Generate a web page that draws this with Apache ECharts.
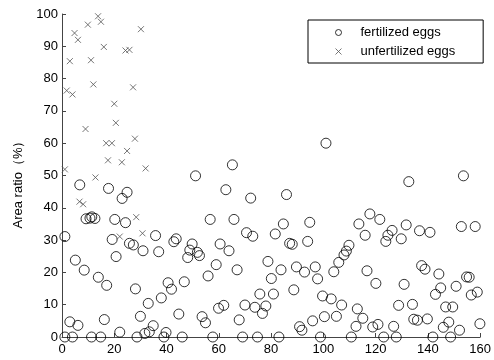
<!DOCTYPE html>
<html>
<head>
<meta charset="utf-8">
<script src="https://cdn.jsdelivr.net/npm/echarts@6/dist/echarts.min.js"></script>
<style>
  html, body { margin: 0; padding: 0; background: #fff; }
  #chart { width: 494px; height: 360px; }
</style>
</head>
<body>
<div id="chart"></div>
<script>
// fertilized eggs (x = egg index, y = area ratio %)
const fertX = [
  6.8, 17.8, 23.0, 24.9, 9.2, 10.7, 12.6, 11.4, 1.1, 20.2, 24.3, 19.2, 25.8, 27.3, 31.0, 35.8, 37.0,
  5.1, 20.7, 8.5, 13.9, 17.1, 28.1, 33.0, 38.0, 40.6, 3.0, 6.1, 16.2, 30.0, 22.1, 31.7, 33.4, 34.9,
  39.8, 1.1, 4.0, 11.3, 14.8, 28.7, 39.0,
  51.1, 62.7, 72.2, 85.9, 56.7, 65.8, 84.7, 94.8, 70.6, 73.0, 81.6, 42.8, 43.7, 49.8, 60.5, 48.9,
  51.8, 52.6, 48.1, 63.9, 87.1, 88.1, 94.0, 59.0, 55.9, 67.0, 78.8, 83.8, 89.7, 92.8, 96.9, 97.8,
  80.1, 41.9, 46.8, 75.7, 80.9, 88.7, 99.7, 44.7, 59.9, 61.9, 70.0, 73.8, 78.0, 76.7, 53.6, 54.9,
  67.8, 95.9, 100.4, 90.9, 91.8, 46.0, 57.7, 69.1, 74.8, 83.0, 98.9, 65.2, 101.0,
  153.6, 132.7, 117.8, 121.6, 113.6, 116.0, 131.7, 136.8, 140.8, 152.8, 158.1, 126.3, 124.7, 123.9,
  129.8, 109.8, 108.8, 107.9, 105.9, 104.0, 116.7, 120.1, 130.9, 137.6, 138.9, 144.2, 144.9, 142.9,
  150.8, 154.8, 155.8, 158.9, 156.6, 103.0, 107.0, 113.0, 128.8, 134.1, 146.8, 149.5, 105.0, 115.1,
  134.6, 136.0, 139.8, 112.5, 118.9, 120.9, 126.9, 145.9, 148.0, 152.1, 159.9, 110.7, 123.1, 127.9,
  141.9, 148.7
];
const fertY = [
  47.1, 46.0, 42.9, 44.8, 36.6, 36.8, 36.7, 37.2, 31.1, 36.4, 35.4, 30.2, 29.0, 28.5, 26.7, 31.4, 26.4,
  23.8, 24.9, 20.7, 18.5, 16.0, 14.9, 10.4, 12.1, 16.8, 4.7, 3.6, 5.4, 6.4, 1.5, 1.1, 1.6, 3.5,
  1.4, 0, 0, 0, 0, 0, 0,
  49.9, 45.6, 43.0, 44.1, 36.4, 36.4, 35.0, 35.5, 32.3, 31.2, 31.9, 29.5, 30.4, 28.8, 28.8, 26.9,
  26.2, 25.2, 24.6, 26.7, 29.0, 28.7, 29.6, 22.4, 18.9, 20.8, 23.4, 20.8, 21.7, 20.1, 21.7, 18.0,
  18.1, 14.8, 17.1, 13.3, 13.3, 14.6, 12.7, 7.1, 8.9, 9.8, 9.9, 9.2, 9.6, 7.3, 6.3, 4.4,
  5.3, 5.0, 6.3, 3.2, 2.1, 0, 0, 0, 0, 0, 0, 53.3, 60.0,
  49.9, 48.1, 38.1, 36.4, 35.0, 31.5, 34.7, 32.9, 32.4, 34.2, 34.2, 33.0, 31.5, 29.6,
  30.4, 28.4, 26.6, 25.4, 23.1, 20.2, 20.5, 16.6, 16.3, 22.1, 21.0, 19.5, 15.2, 13.2,
  15.7, 18.6, 18.5, 13.9, 13.0, 11.8, 9.9, 8.7, 9.8, 10.1, 9.3, 9.3, 6.4, 5.8,
  5.5, 5.2, 5.6, 3.3, 3.1, 3.9, 3.3, 3.0, 4.6, 2.1, 4.1, 0, 0, 0,
  0, 0
];

// unfertilized eggs
const unfertX = [
  3.0, 1.8, 4.0, 4.8, 6.1, 9.9, 11.1, 12.0, 9.0, 13.8, 14.9, 16.0, 1.1, 12.8, 20.0, 20.6,
  16.9, 19.1, 17.6, 22.9, 24.9, 27.9, 24.3, 25.8, 27.2, 30.2, 32.0, 6.7, 8.1, 28.4, 22.1, 30.8
];
const unfertY = [
  85.4, 76.3, 75.1, 94.1, 92.0, 96.7, 85.7, 78.2, 64.4, 99.3, 97.6, 89.8, 51.9, 49.4, 72.2, 66.3,
  60.0, 60.0, 54.7, 54.1, 57.6, 61.4, 88.7, 88.9, 77.3, 95.3, 52.2, 41.9, 41.1, 37.1, 31.1, 32.1
];

const seriesNames = ['fertilized eggs', 'unfertilized eggs'];

const zip = (xs, ys) => xs.map((x, i) => [x, ys[i]]);

const crossPath = 'path://M0,0L10,10M10,0L0,10';
const font = 'Liberation Sans, Arial, sans-serif';

const chart = echarts.init(document.getElementById('chart'), null, { renderer: 'canvas' });

const axisFont = {
  color: '#000',
  fontSize: 13,
  fontFamily: font,
};

const option = {
  animation: false,
  backgroundColor: '#fff',
  grid: {
    left: 62,
    right: 10,
    top: 14,
    bottom: 23,
  },
  legend: {
    left: 308,
    top: 20,
    orient: 'vertical',
    padding: [6, 28, 5, 27],
    itemGap: 6,
    itemWidth: 6,
    itemHeight: 6,
    borderColor: '#000',
    borderWidth: 1,
    backgroundColor: '#fff',
    textStyle: {
      color: '#000',
      fontSize: 13,
      fontFamily: font,
      padding: [0, 0, 0, 14],
    },
    data: [
      {
        name: seriesNames[0],
        icon: 'circle',
        itemStyle: { color: 'rgba(255,255,255,0)', borderColor: '#000', borderWidth: 1 },
      },
      {
        name: seriesNames[1],
        icon: crossPath,
        itemStyle: { color: 'rgba(255,255,255,0)', borderColor: '#555', borderWidth: 1 },
      },
    ],
  },
  xAxis: {
    type: 'value',
    min: 0,
    max: 160,
    interval: 20,
    splitLine: { show: false },
    axisLine: { onZero: false, lineStyle: { color: '#444', width: 1 } },
    axisTick: { inside: true, length: 4, lineStyle: { color: '#444' } },
    axisLabel: Object.assign({ margin: 6 }, axisFont),
  },
  yAxis: {
    type: 'value',
    min: 0,
    max: 100,
    interval: 10,
    name: 'Area ratio（%）',
    nameLocation: 'middle',
    nameGap: 36,
    nameTextStyle: {
      color: '#000',
      fontSize: 13,
      fontFamily: font,
      padding: [0, 12, 0, 0],
    },
    splitLine: { show: false },
    axisLine: { show: true, onZero: false, lineStyle: { color: '#444', width: 1 } },
    axisTick: { show: true, inside: true, length: 4, lineStyle: { color: '#444' } },
    axisLabel: Object.assign({ margin: 4 }, axisFont),
  },
  series: [
    {
      name: seriesNames[0],
      type: 'scatter',
      clip: false,
      symbol: 'circle',
      symbolSize: 10,
      data: zip(fertX, fertY),
      itemStyle: {
        color: 'rgba(255,255,255,0)',
        borderColor: '#000',
        borderWidth: 1,
      },
    },
    {
      name: seriesNames[1],
      type: 'scatter',
      clip: false,
      symbol: crossPath,
      symbolSize: 6,
      data: zip(unfertX, unfertY),
      itemStyle: {
        color: 'rgba(255,255,255,0)',
        borderColor: '#555',
        borderWidth: 1,
      },
    },
  ],
};

chart.setOption(option);
</script>
</body>
</html>
